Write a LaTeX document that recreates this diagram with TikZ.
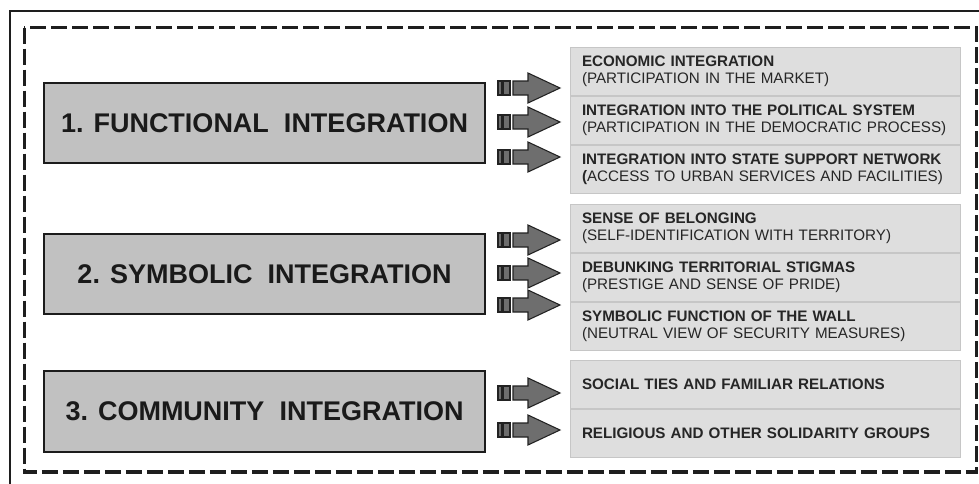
\documentclass[tikz,border=0pt]{standalone}
\usepackage{fontspec}
\setmainfont{Liberation Sans}
\definecolor{leftfill}{HTML}{C1C1C1}
\definecolor{lborder}{HTML}{1C1C1C}
\definecolor{ltext}{HTML}{1A1A1A}
\definecolor{rightfill}{HTML}{DEDEDE}
\definecolor{rborder}{HTML}{C6C6C6}
\definecolor{rtext}{HTML}{262626}
\definecolor{arrowfill}{HTML}{6E6E6E}
\definecolor{arrowline}{HTML}{222222}
\definecolor{framecol}{HTML}{1E1E1E}
\tikzset{
  lbox/.style={draw=lborder, fill=leftfill, line width=1.6pt,
    minimum width=330.75pt, minimum height=60pt, inner sep=0pt,
    font=\bfseries\fontsize{20.25}{24}\selectfont, text=ltext},
  rbox/.style={draw=rborder, fill=rightfill, line width=0.75pt,
    minimum height=36pt, text width=274.5pt, inner xsep=9pt, inner ysep=0pt,
    align=left, font=\fontsize{11.4}{12.75}\selectfont, text=rtext},
  arrowpart/.style={fill=arrowfill, draw=arrowline, line width=0.8pt, line join=miter},
  blockarrow/.pic={
    \filldraw[arrowpart] (0,-7) rectangle (3.5,7);
    \filldraw[arrowpart] (5,-7) rectangle (12,7);
    \filldraw[arrowpart] (15,-7) -- (30,-7) -- (30,-15) -- (62,0) -- (30,15) -- (30,7) -- (15,7) -- cycle;
  }
}
\begin{document}
\begin{tikzpicture}[x=0.75pt,y=-0.75pt]
\useasboundingbox (0,0) rectangle (979,483);
\clip (0,0) rectangle (979,483);
\fill[white] (0,0) rectangle (979,483);
% frames
\draw[line width=2pt, framecol] (10,11) rectangle (1000,500);
\draw[line width=2.4pt, framecol, dash pattern=on 12pt off 3.75pt] (24.4,27.5) rectangle (976.5,472);
% left boxes
\node[lbox] (L1) at (264.5,123) {1. FUNCTIONAL\ \ INTEGRATION};
\node[lbox] (L2) at (264.5,274) {2. SYMBOLIC\ \ INTEGRATION};
\node[lbox, minimum height=60.75pt] (L3) at (264.5,411.5) {3. COMMUNITY\ \ INTEGRATION};
% right boxes
\node[rbox] (Ra) at (765,71) {\mbox{\textbf{ECONOMIC INTEGRATION}}\\\mbox{(PARTICIPATION IN THE MARKET)}};
\node[rbox] (Rb) at (765,120) {\mbox{\textbf{INTEGRATION INTO THE POLITICAL SYSTEM}}\\\mbox{(PARTICIPATION IN THE DEMOCRATIC PROCESS)}};
\node[rbox] (Rc) at (765,169) {\mbox{\textbf{INTEGRATION INTO STATE SUPPORT NETWORK}}\\\mbox{\textbf{(}ACCESS TO URBAN SERVICES AND FACILITIES)}};
\node[rbox] (Rd) at (765,228) {\mbox{\textbf{SENSE OF BELONGING}}\\\mbox{(SELF-IDENTIFICATION WITH TERRITORY)}};
\node[rbox] (Re) at (765,277) {\mbox{\textbf{DEBUNKING TERRITORIAL STIGMAS}}\\\mbox{(PRESTIGE AND SENSE OF PRIDE)}};
\node[rbox] (Rf) at (765,326) {\mbox{\textbf{SYMBOLIC FUNCTION OF THE WALL}}\\\mbox{(NEUTRAL VIEW OF SECURITY MEASURES)}};
\node[rbox] (Rg) at (765,384) {\mbox{\textbf{SOCIAL TIES AND FAMILIAR RELATIONS}}};
\node[rbox] (Rh) at (765,433) {\mbox{\textbf{RELIGIOUS AND OTHER SOLIDARITY GROUPS}}};
% block arrows
\pic (A1) at (498,88) {blockarrow};
\pic (A2) at (498,122) {blockarrow};
\pic (A3) at (498,157) {blockarrow};
\pic (A4) at (498,240) {blockarrow};
\pic (A5) at (498,273) {blockarrow};
\pic (A6) at (498,305) {blockarrow};
\pic (A7) at (498,393) {blockarrow};
\pic (A8) at (498,430) {blockarrow};
\end{tikzpicture}
\end{document}
